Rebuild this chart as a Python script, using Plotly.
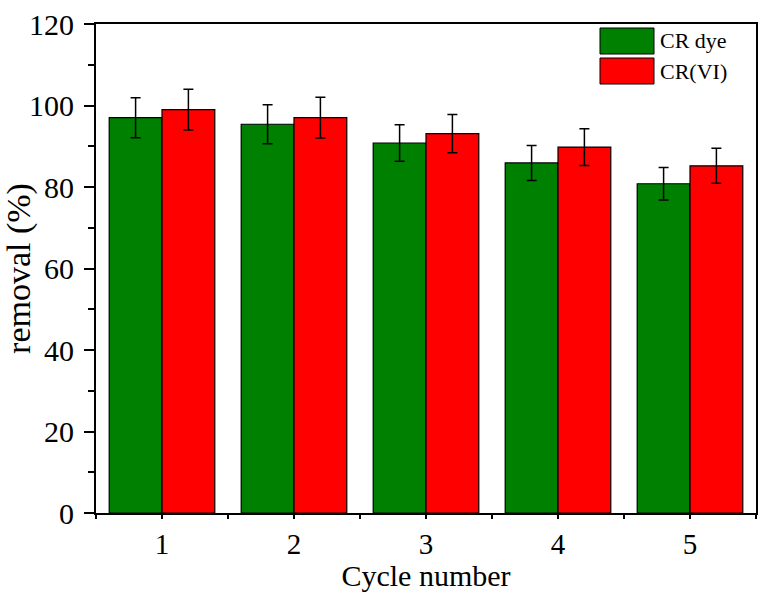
import plotly.graph_objects as go

cycles = [1, 2, 3, 4, 5]
cr_dye = [97.0, 95.4, 90.8, 85.9, 80.8]
cr_dye_err = [4.9, 4.8, 4.5, 4.3, 4.0]
cr_vi = [99.0, 97.0, 93.1, 89.8, 85.2]
cr_vi_err = [5.0, 5.0, 4.7, 4.5, 4.3]
series_names = ["CR dye", "CR(VI)"]
series_colors = ["#008000", "#FF0000"]

FONT = "Liberation Serif, Times New Roman, serif"

fig = go.Figure()
for name, vals, errs, col in zip(series_names, [cr_dye, cr_vi], [cr_dye_err, cr_vi_err], series_colors):
    fig.add_trace(go.Bar(
        x=cycles, y=vals, name=name,
        marker=dict(color=col, line=dict(color="black", width=1.2)),
        error_y=dict(type="data", array=errs, color="black", thickness=1.5, width=5),
        showlegend=False,
    ))

# custom legend (large swatches like the reference)
for i, (name, col) in enumerate(zip(series_names, series_colors)):
    y0 = 1 - (4 + i * 30) / 489.0
    y1 = y0 - 26 / 489.0
    fig.add_shape(type="rect", xref="paper", yref="paper",
                  x0=(600 - 96) / 660.0, x1=(654 - 96) / 660.0, y0=y1, y1=y0,
                  fillcolor=col, line=dict(color="black", width=1))
    fig.add_annotation(xref="paper", yref="paper", x=(658 - 96) / 660.0, y=(y0 + y1) / 2,
                       text=name, showarrow=False, xanchor="left", yanchor="middle",
                       font=dict(family=FONT, size=22, color="black"))

fig.update_layout(
    width=774, height=592,
    margin=dict(l=96, r=18, t=24, b=79),
    paper_bgcolor="white", plot_bgcolor="white",
    barmode="group", bargap=0.2, bargroupgap=0,
    font=dict(family=FONT, color="black"),
)
fig.update_xaxes(
    range=[0.5, 5.5], tickmode="linear", tick0=1, dtick=1, automargin=False,
    showgrid=False, zeroline=False,
    showline=True, linecolor="black", linewidth=2, mirror=True,
    ticks="outside", ticklen=4, tickwidth=1.5, tickcolor="black",
    tickfont=dict(family=FONT, size=29), ticklabelstandoff=0,
    minor=dict(tick0=0.5, dtick=0.5, ticks="outside", ticklen=4, tickwidth=1.5, tickcolor="black"),
    title=dict(text="Cycle number", font=dict(family=FONT, size=30), standoff=5),
)
fig.update_yaxes(
    range=[0, 120], tickmode="linear", tick0=0, dtick=20, automargin=False,
    showgrid=False, zeroline=False,
    showline=True, linecolor="black", linewidth=2, mirror=True,
    ticks="outside", ticklen=10, tickwidth=1.5, tickcolor="black",
    tickfont=dict(family=FONT, size=30), ticklabelstandoff=4,
    minor=dict(tick0=10, dtick=10, ticks="outside", ticklen=6, tickwidth=1.5, tickcolor="black"),
    title=dict(text="removal (%)", font=dict(family=FONT, size=34), standoff=0),
)

fig.write_html("out.html")
